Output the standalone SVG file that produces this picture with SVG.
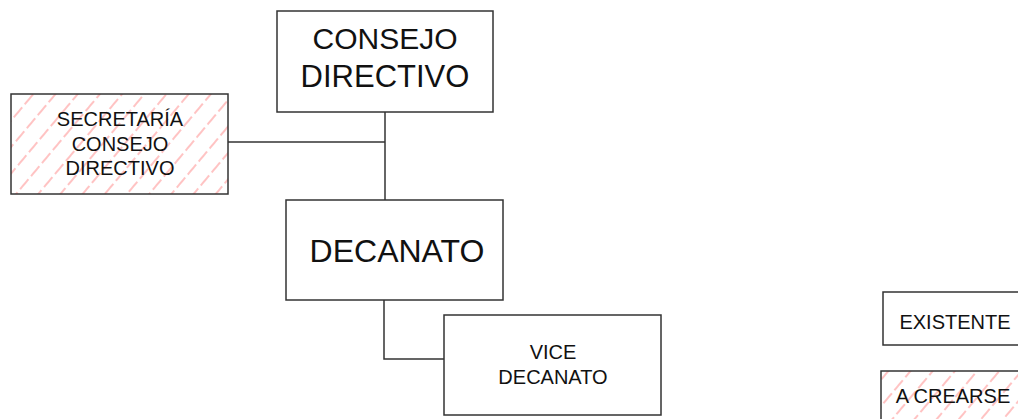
<svg xmlns="http://www.w3.org/2000/svg" width="1018" height="419" viewBox="0 0 1018 419">
<style>
.box{fill:#fff;stroke:#333;stroke-width:1.5}
.hatch{fill:url(#h);stroke:#333;stroke-width:1.5}
.t{font-family:"Liberation Sans",Arial,sans-serif;fill:#111;text-anchor:middle}
.conn{fill:none;stroke:#333;stroke-width:1.5}
</style>
<defs>
<pattern id="h" patternUnits="userSpaceOnUse" width="17" height="17" patternTransform="rotate(40)">
<rect width="17" height="17" fill="#fff"/>
<line x1="1" y1="0" x2="1" y2="17" stroke="#f88" stroke-width="1" stroke-dasharray="13 4"/>
</pattern>
</defs>
<g id="connectors">
<path class="conn" d="M385,112 V200"/>
<path class="conn" d="M228,142 H385"/>
<path class="conn" d="M384,300 V359 H444"/>
</g>
<g id="consejo">
<rect class="box" x="277" y="11" width="216" height="101"/>
<text class="t" x="385" y="49" font-size="30">CONSEJO</text>
<text class="t" x="385" y="87" font-size="31">DIRECTIVO</text>
</g>
<g id="secretaria">
<rect class="hatch" x="11" y="94" width="217" height="100"/>
<text class="t" x="120" y="126" font-size="20">SECRETARÍA</text>
<text class="t" x="120" y="151" font-size="20">CONSEJO</text>
<text class="t" x="120" y="175" font-size="20">DIRECTIVO</text>
</g>
<g id="decanato">
<rect class="box" x="286" y="200" width="217" height="100"/>
<text class="t" x="397" y="262" font-size="32">DECANATO</text>
</g>
<g id="vicedecanato">
<rect class="box" x="444" y="315" width="217" height="100"/>
<text class="t" x="553" y="359" font-size="20">VICE</text>
<text class="t" x="553" y="384" font-size="20">DECANATO</text>
</g>
<g id="existente">
<rect class="box" x="883" y="292" width="140" height="53"/>
<text class="t" x="955" y="329" font-size="20">EXISTENTE</text>
</g>
<g id="acrearse">
<rect class="hatch" x="881" y="371" width="142" height="60"/>
<text class="t" x="953" y="403" font-size="20">A CREARSE</text>
</g>
</svg>
